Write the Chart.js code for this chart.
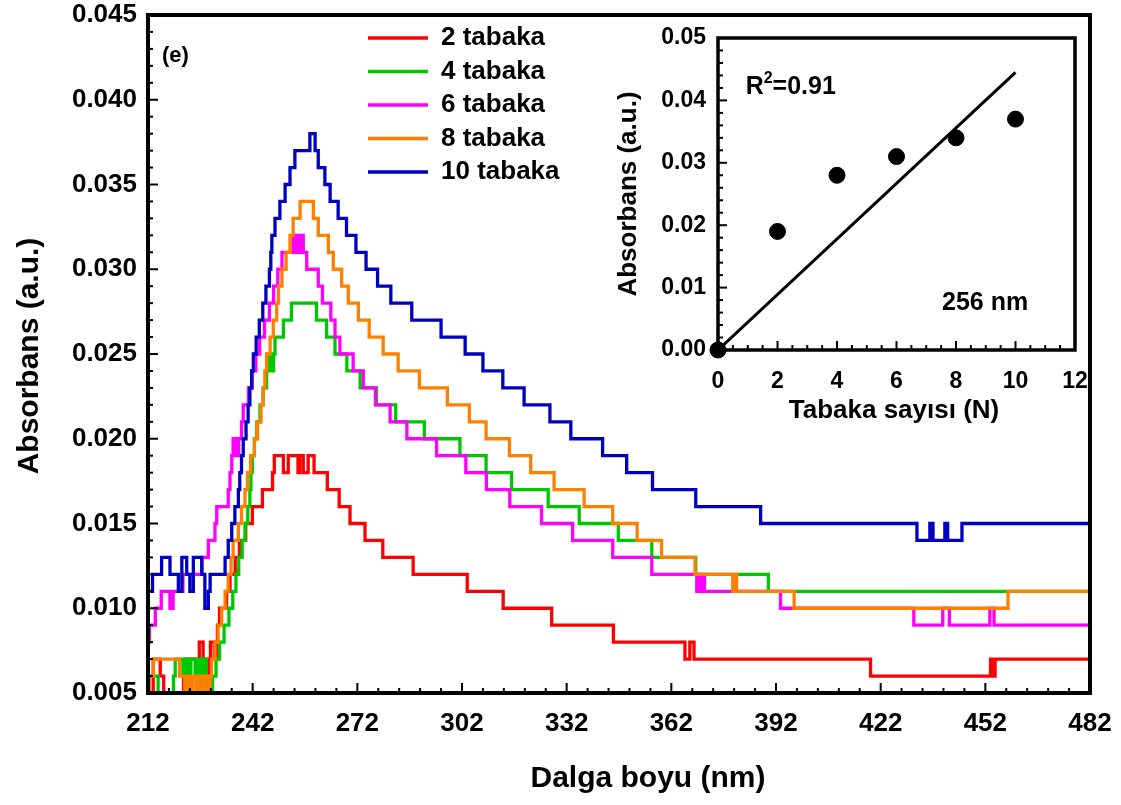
<!DOCTYPE html>
<html>
<head>
<meta charset="utf-8">
<title>Absorbans - Dalga boyu</title>
<script src="https://cdn.jsdelivr.net/npm/chart.js@4.4.1/dist/chart.umd.min.js"></script>
<style>
  html, body { margin: 0; padding: 0; background: #fff; }
  #wrap { position: relative; width: 1121px; height: 805px; }
  #mainChart { position: absolute; left: 0; top: 0; }
  #insetChart { position: absolute; left: 600px; top: 20px; }
</style>
</head>
<body>
<div id="wrap">
  <canvas id="mainChart" width="1121" height="805"></canvas>
  <canvas id="insetChart" width="500" height="420"></canvas>
</div>
<script>
// axis tick values
const wavelengthTicks = [212, 242, 272, 302, 332, 362, 392, 422, 452, 482];
const absTicks = [0.005, 0.010, 0.015, 0.020, 0.025, 0.030, 0.035, 0.040, 0.045];
const layerTicks = [0, 2, 4, 6, 8, 10, 12];
const insetAbsTicks = [0, 0.01, 0.02, 0.03, 0.04, 0.05];

const seriesNames = ['2 tabaka', '4 tabaka', '6 tabaka', '8 tabaka', '10 tabaka'];
const seriesColors = ['#ff0000', '#00c800', '#ff00ff', '#ff8000', '#0000c0'];

// spectra: wavelength where a level starts (nm) and the absorbance held from there
const nm2 = [212, 213.5, 215.5, 216.5, 222.2, 222.8, 226.7, 227.8, 228.7, 229.5, 229.9, 231.0, 231.9, 232.5, 234.5, 235.5, 237.0, 238.2, 240.0, 241.9, 244.8, 247.7, 248.2, 250.8, 252.2, 255.0, 255.5, 256.5, 257.9, 259.6, 263.4, 266.8, 269.9, 274.2, 279.3, 288.0, 303.5, 313.8, 327.7, 345.4, 365.9, 367.3, 368.5, 419.1, 453.5, 454.2, 454.8, 482];
const abs2 = [0.005, 0.007, 0.006, 0.005, 0.006, 0.007, 0.008, 0.007, 0.006, 0.007, 0.008, 0.007, 0.009, 0.010, 0.011, 0.012, 0.013, 0.014, 0.015, 0.016, 0.017, 0.018, 0.019, 0.018, 0.019, 0.018, 0.019, 0.018, 0.019, 0.018, 0.017, 0.016, 0.015, 0.014, 0.013, 0.012, 0.011, 0.010, 0.009, 0.008, 0.007, 0.008, 0.007, 0.006, 0.007, 0.006, 0.007, 0.007];

const nm4 = [212, 212.3, 214.9, 219.3, 219.8, 222.0, 222.6, 223.5, 224.3, 225.5, 226.3, 227.2, 227.8, 228.7, 229.5, 230.5, 231.5, 232.5, 233.8, 235.2, 236.3, 237.2, 238.0, 239.0, 239.8, 240.6, 241.2, 241.5, 241.9, 242.5, 243.2, 244.1, 245.0, 246.0, 246.5, 246.8, 247.2, 247.6, 248.0, 248.4, 250.8, 253.1, 260.3, 263.2, 265.6, 269.0, 272.8, 277.5, 283.0, 291.2, 301.4, 308.9, 316.2, 326.7, 335.6, 346.8, 356.4, 369.0, 389.8, 482];
const abs4 = [0.005, 0.006, 0.005, 0.006, 0.007, 0.006, 0.007, 0.005, 0.007, 0.006, 0.007, 0.005, 0.007, 0.006, 0.005, 0.006, 0.007, 0.008, 0.009, 0.010, 0.011, 0.012, 0.013, 0.014, 0.015, 0.016, 0.017, 0.018, 0.019, 0.020, 0.021, 0.022, 0.023, 0.024, 0.025, 0.024, 0.025, 0.024, 0.025, 0.026, 0.027, 0.028, 0.027, 0.026, 0.025, 0.024, 0.023, 0.022, 0.021, 0.020, 0.019, 0.018, 0.017, 0.016, 0.015, 0.014, 0.013, 0.012, 0.011, 0.011];

const nm6 = [212, 212.4, 214.1, 215.8, 218.3, 219.2, 222.0, 227.5, 229.3, 231.2, 231.7, 235.0, 235.5, 236.0, 236.4, 236.8, 237.2, 237.6, 238.0, 238.8, 239.3, 240.8, 241.9, 242.9, 244.0, 245.4, 246.8, 248.0, 249.2, 250.4, 253.6, 254.3, 254.6, 255.3, 255.6, 256.5, 257.5, 260.8, 262.0, 264.4, 265.6, 267.0, 270.8, 273.7, 277.2, 281.4, 286.2, 294.7, 303.1, 309.0, 315.7, 324.8, 333.7, 345.2, 356.4, 369.3, 369.8, 370.4, 370.9, 371.5, 393.3, 431.5, 439.8, 441.7, 453.3, 454.5, 482];
const abs6 = [0.008, 0.009, 0.010, 0.011, 0.010, 0.011, 0.012, 0.013, 0.014, 0.015, 0.016, 0.017, 0.018, 0.019, 0.020, 0.019, 0.020, 0.019, 0.020, 0.021, 0.022, 0.023, 0.024, 0.025, 0.026, 0.027, 0.028, 0.029, 0.030, 0.031, 0.032, 0.031, 0.032, 0.031, 0.032, 0.031, 0.030, 0.029, 0.028, 0.027, 0.026, 0.025, 0.024, 0.023, 0.022, 0.021, 0.020, 0.019, 0.018, 0.017, 0.016, 0.015, 0.014, 0.013, 0.012, 0.011, 0.012, 0.011, 0.012, 0.011, 0.010, 0.009, 0.010, 0.009, 0.010, 0.009, 0.009];

const nm8 = [212, 212.5, 213.5, 221.0, 222.5, 223.2, 224.0, 224.8, 225.8, 226.5, 227.5, 228.3, 229.0, 229.8, 230.2, 231.2, 232.1, 233.1, 234.1, 235.0, 235.8, 236.4, 237.9, 238.8, 239.8, 240.5, 241.4, 242.5, 243.4, 244.4, 245.0, 245.5, 246.0, 247.0, 247.9, 248.9, 249.4, 250.4, 251.6, 252.7, 253.6, 255.6, 259.4, 260.8, 263.7, 265.1, 267.5, 269.4, 272.3, 275.4, 279.4, 283.7, 289.8, 297.8, 304.1, 308.9, 315.6, 321.7, 328.4, 337.0, 345.2, 352.2, 359.2, 368.8, 379.6, 380.1, 380.7, 397.2, 458.5, 482];
const abs8 = [0.005, 0.006, 0.007, 0.006, 0.005, 0.006, 0.005, 0.006, 0.005, 0.006, 0.005, 0.006, 0.005, 0.006, 0.007, 0.008, 0.009, 0.010, 0.011, 0.012, 0.013, 0.014, 0.015, 0.016, 0.017, 0.018, 0.019, 0.020, 0.021, 0.022, 0.023, 0.024, 0.025, 0.026, 0.027, 0.028, 0.029, 0.030, 0.031, 0.032, 0.033, 0.034, 0.033, 0.032, 0.031, 0.030, 0.029, 0.028, 0.027, 0.026, 0.025, 0.024, 0.023, 0.022, 0.021, 0.020, 0.019, 0.018, 0.017, 0.016, 0.015, 0.014, 0.013, 0.012, 0.011, 0.012, 0.011, 0.010, 0.011, 0.011];

const nm10 = [212, 213.3, 215.9, 218.3, 220.7, 221.7, 223.1, 224.0, 225.0, 227.4, 228.3, 229.3, 229.8, 234.1, 235.0, 236.0, 236.9, 237.9, 238.3, 238.8, 239.3, 240.1, 240.7, 241.2, 241.7, 242.2, 243.0, 243.9, 244.9, 245.8, 246.8, 247.2, 247.5, 248.4, 249.8, 251.3, 252.7, 254.1, 258.4, 259.9, 260.8, 262.7, 264.2, 266.5, 268.9, 271.6, 274.5, 277.8, 281.6, 287.6, 296.0, 302.9, 308.0, 313.7, 319.8, 327.2, 333.2, 342.3, 349.2, 356.6, 369.0, 387.6, 432.4, 436.1, 437.0, 440.4, 441.2, 445.3, 482];
const abs10 = [0.011, 0.012, 0.013, 0.012, 0.011, 0.013, 0.012, 0.011, 0.013, 0.012, 0.010, 0.011, 0.012, 0.013, 0.014, 0.015, 0.016, 0.017, 0.018, 0.019, 0.020, 0.021, 0.022, 0.023, 0.024, 0.025, 0.026, 0.027, 0.028, 0.029, 0.030, 0.031, 0.032, 0.033, 0.034, 0.035, 0.036, 0.037, 0.038, 0.037, 0.036, 0.035, 0.034, 0.033, 0.032, 0.031, 0.030, 0.029, 0.028, 0.027, 0.026, 0.025, 0.024, 0.023, 0.022, 0.021, 0.020, 0.019, 0.018, 0.017, 0.016, 0.015, 0.014, 0.015, 0.014, 0.015, 0.014, 0.015, 0.015];

// inset: absorbance at 256 nm against layer count, with the fitted line
const layerCount = [0, 2, 4, 6, 8, 10];
const peakAbs = [0.000, 0.019, 0.028, 0.031, 0.034, 0.037];
const fitLayers = [0, 10];
const fitAbs = [0, 0.0445];

const spectraNm = [nm2, nm4, nm6, nm8, nm10];
const spectraAbs = [abs2, abs4, abs6, abs8, abs10];

const FONT = '"Liberation Sans", Arial, Helvetica, sans-serif';
const toPoints = (xs, ys) => xs.map((x, i) => ({ x, y: ys[i] }));
const tickFont = size => ({ family: FONT, size, weight: 'bold' });

// box round the plot area plus inward major/minor ticks on left and bottom
function framePlugin(opts) {
  return {
    id: 'frame',
    afterDatasetsDraw(chart) {
      const { ctx, chartArea: a, scales: { x, y } } = chart;
      ctx.save();
      ctx.strokeStyle = '#000';
      ctx.lineWidth = opts.tickWidth;
      const nx = Math.round((x.max - x.min) / opts.xMinor);
      for (let i = 0; i <= nx; i++) {
        const v = x.min + i * opts.xMinor;
        const px = x.getPixelForValue(v);
        const len = opts.xMajor.some(t => Math.abs(t - v) < 1e-6) ? opts.majorLen : opts.minorLen;
        ctx.beginPath();
        ctx.moveTo(px, a.bottom);
        ctx.lineTo(px, a.bottom - len);
        ctx.stroke();
      }
      const ny = Math.round((y.max - y.min) / opts.yMinor);
      for (let i = 0; i <= ny; i++) {
        const v = y.min + i * opts.yMinor;
        const py = y.getPixelForValue(v);
        const len = opts.yMajor.some(t => Math.abs(t - v) < 1e-9) ? opts.majorLen : opts.minorLen;
        ctx.beginPath();
        ctx.moveTo(a.left, py);
        ctx.lineTo(a.left + len, py);
        ctx.stroke();
      }
      ctx.lineWidth = opts.borderWidth;
      ctx.strokeRect(a.left, a.top, a.right - a.left, a.bottom - a.top);
      ctx.restore();
    }
  };
}

// free text (axis titles, tag, notes) and an optional legend; "at" is in data units
function notesPlugin(items, legend) {
  return {
    id: 'notes',
    afterDraw(chart) {
      const { ctx, scales } = chart;
      ctx.save();
      ctx.fillStyle = '#000';
      items.forEach(item => {
        let px = item.px, py = item.py;
        if (item.at) {
          px = scales.x.getPixelForValue(item.at[0]);
          py = scales.y.getPixelForValue(item.at[1]);
        }
        ctx.save();
        ctx.translate(px, py);
        if (item.rotate) ctx.rotate(item.rotate);
        ctx.textBaseline = item.baseline || 'alphabetic';
        ctx.textAlign = 'left';
        let total = 0;
        item.parts.forEach(p => {
          ctx.font = `bold ${p.size}px ${FONT}`;
          total += ctx.measureText(p.t).width;
        });
        let cx = item.align === 'center' ? -total / 2 : 0;
        item.parts.forEach(p => {
          ctx.font = `bold ${p.size}px ${FONT}`;
          ctx.fillText(p.t, cx, p.rise || 0);
          cx += ctx.measureText(p.t).width;
        });
        ctx.restore();
      });
      if (legend) {
        ctx.font = `bold ${legend.size}px ${FONT}`;
        ctx.textBaseline = 'middle';
        ctx.textAlign = 'left';
        seriesNames.forEach((name, i) => {
          const yy = legend.top + i * legend.rowGap;
          ctx.strokeStyle = seriesColors[i];
          ctx.lineWidth = legend.lineWidth;
          ctx.beginPath();
          ctx.moveTo(legend.lineFrom, yy);
          ctx.lineTo(legend.lineTo, yy);
          ctx.stroke();
          ctx.fillText(name, legend.textX, yy);
        });
      }
      ctx.restore();
    }
  };
}

// fixed plot-area edges: axis boxes get a set size and no label overhang padding
function fixY(width) {
  return s => { s.width = width; s.paddingTop = 0; s.paddingBottom = 0; };
}
function fixX(height) {
  return s => { s.height = height; s.paddingLeft = 0; s.paddingRight = 0; };
}

new Chart(document.getElementById('mainChart'), {
  type: 'line',
  data: {
    datasets: seriesNames.map((name, i) => ({
      label: name,
      order: seriesNames.length - i,
      data: toPoints(spectraNm[i], spectraAbs[i]),
      borderColor: seriesColors[i],
      borderWidth: 3.3,
      stepped: true,
      pointRadius: 0,
      fill: false
    }))
  },
  options: {
    responsive: false,
    animation: false,
    devicePixelRatio: 1,
    layout: { padding: { top: 15, right: 31, left: 0, bottom: 0 } },
    scales: {
      x: {
        type: 'linear',
        min: 212,
        max: 482,
        grid: { display: false, drawTicks: false },
        border: { display: false },
        afterFit: fixX(112),
        afterBuildTicks: s => { s.ticks = wavelengthTicks.map(v => ({ value: v })); },
        ticks: { color: '#000', font: tickFont(26), padding: 15, maxRotation: 0, autoSkip: false }
      },
      y: {
        min: 0.005,
        max: 0.045,
        grid: { display: false, drawTicks: false },
        border: { display: false },
        afterFit: fixY(148),
        afterBuildTicks: s => { s.ticks = absTicks.map(v => ({ value: v })); },
        ticks: { color: '#000', font: tickFont(26), padding: 11, callback: v => v.toFixed(3) }
      }
    },
    plugins: { legend: { display: false }, tooltip: { enabled: false } }
  },
  plugins: [
    framePlugin({
      borderWidth: 4, tickWidth: 2, majorLen: 10, minorLen: 5,
      xMinor: 6, xMajor: wavelengthTicks, yMinor: 0.001, yMajor: absTicks
    }),
    notesPlugin([
      { px: 30, py: 356, rotate: -Math.PI / 2, align: 'center', baseline: 'middle', parts: [{ t: 'Absorbans (a.u.)', size: 30 }] },
      { px: 648, py: 779, align: 'center', baseline: 'middle', parts: [{ t: 'Dalga boyu (nm)', size: 30 }] },
      { at: [216, 0.0422], parts: [{ t: '(e)', size: 22 }] }
    ], { top: 38, rowGap: 33.5, lineFrom: 368, lineTo: 428, textX: 441, size: 26, lineWidth: 3.3 })
  ]
});

new Chart(document.getElementById('insetChart'), {
  type: 'scatter',
  data: {
    datasets: [
      {
        label: 'Ölçülen',
        order: 0,
        data: toPoints(layerCount, peakAbs),
        showLine: false,
        pointRadius: 8,
        pointBackgroundColor: '#000',
        pointBorderColor: '#000',
        clip: false
      },
      {
        label: 'Doğrusal uyum',
        order: 1,
        data: toPoints(fitLayers, fitAbs),
        showLine: true,
        borderColor: '#000',
        borderWidth: 3,
        pointRadius: 0
      }
    ]
  },
  options: {
    responsive: false,
    animation: false,
    devicePixelRatio: 1,
    layout: { padding: { top: 18, right: 25, left: 0, bottom: 0 } },
    scales: {
      x: {
        type: 'linear',
        min: 0,
        max: 12,
        grid: { display: false, drawTicks: false },
        border: { display: false },
        afterFit: fixX(90),
        afterBuildTicks: s => { s.ticks = layerTicks.map(v => ({ value: v })); },
        ticks: { color: '#000', font: tickFont(23), padding: 18, maxRotation: 0, autoSkip: false }
      },
      y: {
        min: 0,
        max: 0.05,
        grid: { display: false, drawTicks: false },
        border: { display: false },
        afterFit: fixY(118),
        afterBuildTicks: s => { s.ticks = insetAbsTicks.map(v => ({ value: v })); },
        ticks: { color: '#000', font: tickFont(23), padding: 12, callback: v => v.toFixed(2) }
      }
    },
    plugins: { legend: { display: false }, tooltip: { enabled: false } }
  },
  plugins: [
    framePlugin({
      borderWidth: 3.5, tickWidth: 2, majorLen: 9, minorLen: 5,
      xMinor: 0.5, xMajor: layerTicks, yMinor: 0.002, yMajor: insetAbsTicks
    }),
    notesPlugin([
      { px: 29, py: 174, rotate: -Math.PI / 2, align: 'center', baseline: 'middle', parts: [{ t: 'Absorbans (a.u.)', size: 26 }] },
      { px: 294, py: 391, align: 'center', baseline: 'middle', parts: [{ t: 'Tabaka sayısı (N)', size: 26 }] },
      { at: [0.93, 0.041], parts: [{ t: 'R', size: 25 }, { t: '2', size: 16, rise: -11 }, { t: '=0.91', size: 25 }] },
      { at: [7.53, 0.0064], parts: [{ t: '256 nm', size: 25 }] }
    ], null)
  ]
});
</script>
</body>
</html>
